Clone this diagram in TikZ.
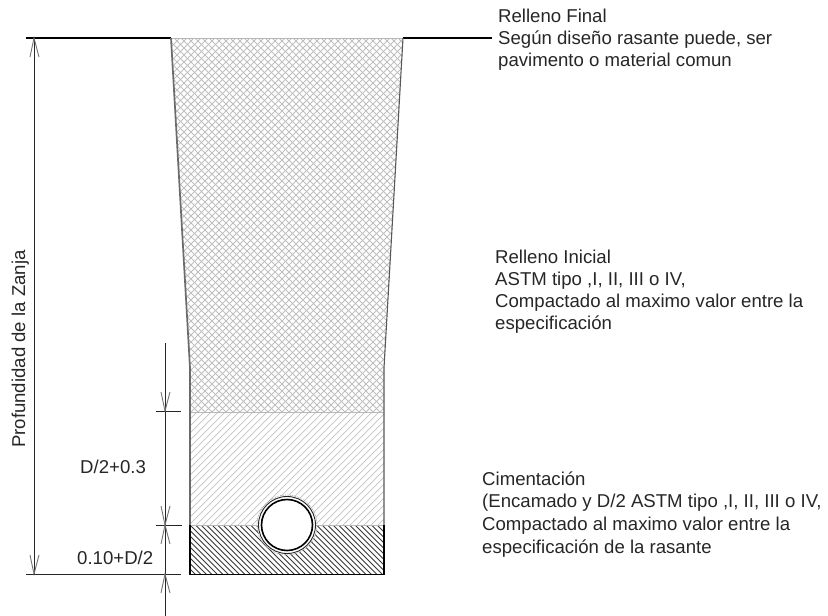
\documentclass[tikz,border=0pt]{standalone}
\usepackage{fontspec}
\setmainfont{Liberation Sans}
\tikzset{
  lbl/.style={anchor=north west,inner sep=0pt,align=left,text=black!85,font=\fontsize{18.6}{22}\selectfont},
  lblb/.style={anchor=north west,inner sep=0pt,align=left,text=black!85,font=\fontsize{18.6}{22.7}\selectfont},
  dimtxt/.style={anchor=base west,inner sep=0pt,text=black!85,font=\fontsize{18.6}{22}\selectfont},
  dim/.style={line width=0.8pt,black!85},
  vee/.style={line width=0.9pt,black!55},
  ground/.style={line width=1.6pt,black},
  wall/.style={line width=1.7pt,black!58},
  wallr/.style={line width=1.1pt,black!65},
  sep/.style={line width=0.8pt,black!28}
}
\begin{document}
\begin{tikzpicture}[x=1pt,y=-1pt]
\useasboundingbox (0,0) rectangle (828,616);
% key points
\coordinate (GL) at (26,38); \coordinate (TL) at (171,38);
\coordinate (TR) at (403,38); \coordinate (GR) at (492,38);
\coordinate (KL) at (190,368); \coordinate (KR) at (384,368);
\coordinate (ML) at (190,412); \coordinate (MR) at (384,412);
\coordinate (CL) at (190,525); \coordinate (CR) at (384,525);
\coordinate (BL) at (190,574.5); \coordinate (BR) at (384,574.5);
\coordinate (P) at (287,525);
\coordinate (PL) at (257,525); \coordinate (PR) at (317,525);
% top fill: cross hatch
\begin{scope}
\clip (TL) -- (KL) -- (ML) -- (MR) -- (KR) -- (TR) -- cycle;
\foreach \i in {0,...,110}{
  \draw[black!25,line width=0.8pt] (160+\i*7,30) -- ++(-400,400);
  \draw[black!25,line width=0.8pt] (-240+\i*7,30) -- ++(400,400);
}
\end{scope}
% middle fill
\begin{scope}
\clip (ML) -- (CL) -- (CR) -- (MR) -- cycle;
\foreach \i in {0,...,70}{
  \draw[black!24,line width=0.7pt] (190+\i*7,405) -- ++(-130,130);
}
\end{scope}
% lower fill
\begin{scope}
\clip (CL) -- (BL) -- (BR) -- (CR) -- cycle;
\foreach \i in {0,...,80}{
  \draw[black!78,line width=0.75pt] (130+\i*5.5,520) -- ++(60,60);
}
\end{scope}
% pipe
\fill[white] (P) circle (29.5);
\draw[black!40,line width=0.7pt,densely dotted] (P) circle (30);
\draw[black!85,line width=0.9pt] (P) circle (28.5);
\draw[black,line width=1.6pt] (P) circle (25.5);
% boundaries
\draw[sep] (TL) -- (TR);
\draw[sep] (ML) -- (MR);
\draw[sep] (CL) -- (PL);
\draw[sep] (PR) -- (CR);
\draw[ground] (GL) -- (TL);
\draw[ground] (TR) -- (GR);
\draw[wall] (TL) -- (KL) -- (CL);
\draw[wallr] (TR) -- (KR) -- (CR);
\draw[line width=1.4pt] (CL) -- (BL);
\draw[line width=1.1pt] (CR) -- (BR);
\draw[line width=1.7pt] (BL) -- (BR);
% dimension coordinates
\coordinate (A1) at (34,38); \coordinate (A2) at (34,574);
\coordinate (D0) at (165,343); \coordinate (D1) at (165,411);
\coordinate (D2) at (165,525); \coordinate (D3) at (165,574);
\coordinate (D4) at (165,616);
\coordinate (T1a) at (156,411); \coordinate (T1b) at (181,411);
\coordinate (T2a) at (156,525); \coordinate (T2b) at (182,525);
\coordinate (T3a) at (26,574); \coordinate (T3b) at (181,574);
\draw[dim] (A1) -- (A2);
\draw[dim] (D0) -- (D4);
\draw[dim] (T1a) -- (T1b);
\draw[dim] (T2a) -- (T2b);
\draw[dim] (T3a) -- (T3b);
% arrowheads
\draw[vee] (30,57) -- (A1) -- (39,57);
\draw[vee] (30,555) -- (A2) -- (39,555);
\draw[vee] (161,392) -- (D1) -- (170,392);
\draw[vee] (161,506) -- (D2) -- (170,506);
\draw[vee] (161,544) -- (D2) -- (170,544);
\draw[vee] (161,593) -- (D3) -- (170,593);
% labels
\node[lbl] (t1) at (498,8.4) {Relleno Final\\Según diseño rasante puede, ser\\pavimento o material comun};
\node[lbl] (t2) at (495,249.4) {Relleno Inicial\\ASTM tipo ,I, II, III o IV,\\Compactado al maximo valor entre la\\especificación};
\node[lblb] (t3) at (482,471.2) {Cimentación\\(Encamado y D/2 ASTM tipo ,I, II, III o IV,\\Compactado al maximo valor entre la\\especificación de la rasante};
\node[dimtxt] (d1) at (80,473) {D/2+0.3};
\node[dimtxt] (d2) at (77,564) {0.10+D/2};
\node[dimtxt,rotate=90] (d3) at (25,448) {Profundidad de la Zanja};
\end{tikzpicture}
\end{document}
